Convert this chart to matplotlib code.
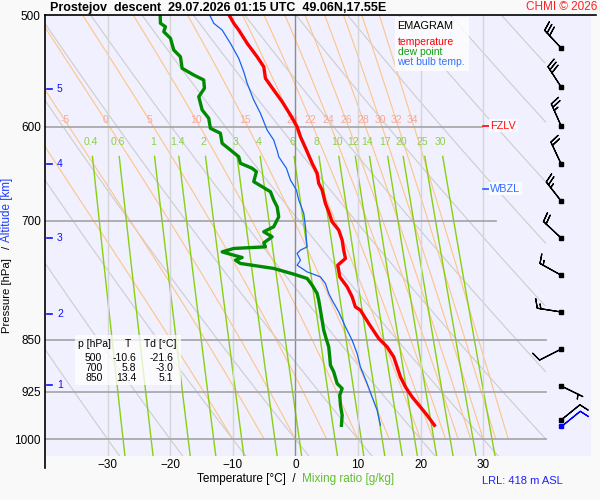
import numpy as np
import matplotlib
matplotlib.use("Agg")
import matplotlib.pyplot as plt

plt.rcParams['font.family'] = ['Liberation Sans', 'DejaVu Sans']

# ---- sounding ----
temp_p = [500, 506.8, 512.4, 523.7, 535.3, 544.1, 554.5, 565.2, 576.1, 588.7,
          600.1, 610.0, 623.4, 637.1, 647.6, 658.3, 665.5, 680.2, 689.6, 701.0,
          710.6, 722.3, 734.2, 744.3, 752.5, 767.0, 779.6, 792.5, 805.6, 809.9,
          827.7, 848.2, 860.0, 874.2, 888.6, 903.2, 918.1, 933.3, 948.7, 961.6, 977.5]
temp_t = [-10.6, -9.85, -9.06, -7.71, -6.12, -5.06, -4.79, -3.47, -2.12, -0.80,
          0.27, 0.80, 1.76, 2.67, 3.47, 3.72, 4.26, 4.79, 5.32, 5.86,
          6.92, 7.46, 7.71, 7.99, 6.76, 7.08, 8.26, 9.06, 9.58, 10.38,
          11.71, 13.30, 14.65, 15.70, 16.24, 16.77, 17.57, 18.64, 19.96, 21.04, 22.20]

dew_p = [500, 506.8, 509.7, 513.8, 519.4, 529.4, 535.3, 545.5, 551.5, 556.0,
         563.6, 571.4, 583.9, 591.9, 601.7, 606.6, 616.6, 623.4, 630.3, 637.1,
         642.3, 645.9, 656.5, 661.9, 667.4, 676.5, 684.0, 695.3, 706.7, 712.5,
         718.4, 725.5, 730.3, 732.2, 736.3, 740.3, 743.1, 746.4, 750.4, 756.5,
         763.6, 769.0, 777.5, 788.1, 796.8, 809.9, 823.3, 836.8, 848.2, 860.0,
         874.2, 886.1, 895.9, 913.0, 920.5, 930.7, 946.0, 961.6, 977.5]
dew_t = [-21.6, -21.56, -20.76, -21.03, -19.96, -19.44, -18.37, -18.10, -16.24, -14.65,
         -14.53, -15.44, -14.90, -13.85, -13.58, -11.98, -11.71, -10.38, -9.06, -8.78,
         -6.92, -6.23, -6.66, -5.32, -3.99, -3.47, -2.92, -2.67, -3.47, -5.06,
         -3.72, -5.06, -4.79, -9.85, -11.71, -9.85, -8.51, -9.58, -8.78, -3.47,
         -0.27, 1.87, 2.67, 3.47, 3.72, 3.99, 4.26, 4.52, 4.9, 5.32,
         5.48, 5.59, 6.12, 6.66, 7.46, 7.08, 7.19, 7.46, 7.35]

wb_p = [500, 506.8, 512.4, 523.7, 536.7, 548.5, 559.0, 574.5, 587.1, 603.4,
        613.3, 625.0, 630.3, 642.3, 654.7, 665.5, 676.5, 691.4, 706.7, 722.3,
        730.3, 734.2, 738.2, 746.4, 752.5, 760.8, 767.0, 775.3, 788.1, 796.8,
        812.2, 832.3, 850.6, 869.3, 888.6, 913.0, 933.3, 953.8, 977.5]
wb_t = [-13.69, -13.05, -11.71, -10.38, -9.06, -8.26, -7.71, -6.66, -5.59, -4.52,
        -3.47, -2.87, -2.67, -1.44, -0.80, 0.16, 0.53, 1.33, 1.60, 1.76,
        1.87, 0.80, 0.27, 0.80, 0.27, 1.87, 3.99, 4.79, 5.32, 5.86,
        6.92, 7.99, 9.06, 9.85, 10.38, 11.45, 12.25, 13.05, 13.58]

# winds (direction deg, speed kt)
wind_p = [527.7, 562.4, 599.4, 637.8, 677.6, 719.8, 764.9, 812.3, 863.1, 916.7, 969.1]
wind_dir = [317, 327, 336, 335, 322, 313, 299, 279, 243, 116, 51]
wind_spd = [30, 30, 25, 20, 25, 20, 15, 15, 10, 5, 10]
sfc_p, sfc_dir, sfc_spd = 978.6, 51, 10

# table
tab_p = ["500", "700", "850"]
tab_t = ["-10.6", "5.8", "13.4"]
tab_td = ["-21.6", "-3.0", "5.1"]

# altitude marks
km_levels = [1, 2, 3, 4, 5]
km_p = [915.6, 815.0, 719.6, 637.8, 564.3]

fzlv_p = 599
wbzl_p = 664

# diagram lines
p_levels = [600, 700, 850, 925, 1000]
p_line_end = [29.8, 32.0, 40, 40, 40]
isotherms = [-30, -20, -10, 10, 20, 30]
theta_c = np.arange(-30, 120, 10)
theta_w = [-10, -5, 0, 5, 10, 15, 20, 22, 24, 26, 28, 30, 32, 34]
mix_r = [0.4, 0.6, 1, 1.4, 2, 3, 4, 6, 8, 10, 12, 14, 17, 20, 25, 30]
x_ticks = [-30, -20, -10, 0, 10, 20, 30]
y_ticks = [500, 600, 700, 850, 925, 1000]

P_TOP, P_BOT = 500, 1027.8
T_LEFT, T_RIGHT = -40, 47.21

Rd, Cp, Lv, eps = 287.04, 1005.7, 2.501e6, 0.622


def es(tk):
    return 6.112 * np.exp(17.67 * (tk - 273.15) / (tk - 29.65))


def dtdp(p, tk):
    rs = eps * es(tk) / (p - es(tk))
    return (Rd * tk + Lv * rs) / (Cp + Lv * Lv * rs * eps / (Rd * tk * tk)) / p


def moist_line(t0):
    ps = np.arange(1000, 499, -2.0)
    ts = [t0 + 273.15]
    for i in range(len(ps) - 1):
        p, h, tk = ps[i], ps[i + 1] - ps[i], ts[-1]
        k1 = dtdp(p, tk)
        k2 = dtdp(p + h / 2, tk + h / 2 * k1)
        k3 = dtdp(p + h / 2, tk + h / 2 * k2)
        k4 = dtdp(p + h, tk + h * k3)
        ts.append(tk + h / 6 * (k1 + 2 * k2 + 2 * k3 + k4))
    return ps, np.array(ts) - 273.15


def mix_td(r, p):
    e = p * r / (622.0 + r)
    a = np.log(e / 6.112)
    return 243.5 * a / (17.67 - a)


fig = plt.figure(figsize=(6, 5), dpi=100, facecolor='#f9f9f9')
ax = fig.add_axes([45 / 600, 44 / 500, 546 / 600, 441 / 500])
ax.set_facecolor('#f0f0fe')
ax.set_yscale('log')
ax.set_xlim(T_LEFT, T_RIGHT)
ax.set_ylim(P_BOT, P_TOP)
for s in ax.spines.values():
    s.set_visible(False)

ax.set_yticks(y_ticks)
ax.set_yticklabels([str(v) for v in y_ticks])
ax.yaxis.set_minor_locator(matplotlib.ticker.NullLocator())
ax.set_xticks(x_ticks)
ax.tick_params(length=0, labelsize=8.5, pad=3)
ax.tick_params(axis='x', pad=2)

pp = np.linspace(P_TOP, P_BOT, 300)

# dry adiabats
for th in theta_c:
    tt = (th + 273.15) * (pp / 1000.0) ** 0.286 - 273.15
    tt = np.where((tt > 40), np.nan, tt)
    ax.plot(tt, pp, color='#cdcdcd', lw=0.8, zorder=1)

# pseudo-adiabats
for tw in theta_w:
    ps, ts = moist_line(tw)
    ax.plot(ts, ps, color='#ffc488', lw=0.8, zorder=1)
    t_lab = np.interp(594, ps[::-1], ts[::-1])
    if t_lab > -39:
        ax.text(t_lab, 594, str(tw), color='#f7a896', fontsize=7.5,
                ha='center', va='center', zorder=3)

# mixing ratio lines
pm = np.linspace(630, P_BOT, 100)
for r in mix_r:
    ax.plot(mix_td(r, pm), pm, color='#88d010', lw=1.0, zorder=1)
    lab = ('%g' % r)
    ax.text(mix_td(r, 615), 615, lab, color='#90d048', fontsize=7.5,
            ha='center', va='center', zorder=3)

# isotherms
for t in isotherms:
    ax.plot([t, t], [P_TOP, P_BOT], color='#d6d6d6', lw=1, zorder=1.5)
ax.plot([0, 0], [P_TOP, P_BOT], color='#8c8c8c', lw=1, zorder=1.5)

# isobars
for p, te in zip(p_levels, p_line_end):
    ax.plot([T_LEFT, te], [p, p], color='#a4a4a4', lw=1.2, zorder=2)

# profiles
ax.plot(wb_t, wb_p, color='#1464f0', lw=0.9, zorder=5)
ax.plot(dew_t, dew_p, color='#008a00', lw=2.4, zorder=6)
ax.plot(temp_t, temp_p, color='#ff0000', lw=2.4, zorder=7)

# freezing / wet bulb zero levels
ax.plot([29.9, 31.0], [fzlv_p, fzlv_p], color='#ff0000', lw=1.2, zorder=8)
ax.text(31.1, fzlv_p, 'FZLV', color='#ff1010', fontsize=7.8, va='center', ha='left',
        zorder=8, bbox=dict(boxstyle='square,pad=0.15', fc='#fafaff', ec='none'))
ax.plot([29.9, 31.0], [wbzl_p, wbzl_p], color='#2060ff', lw=1.2, zorder=8)
ax.text(31.1, wbzl_p, 'WBZL', color='#3070ff', fontsize=7.8, va='center', ha='left',
        zorder=8, bbox=dict(boxstyle='square,pad=0.15', fc='#fafaff', ec='none'))

# altitude marks
km_tr = matplotlib.transforms.blended_transform_factory(ax.transAxes, ax.transData)
for km, p in zip(km_levels, km_p):
    ax.plot([0.004, 0.013], [p, p], color='#1010ff', lw=1.2, transform=km_tr, zorder=8)
    ax.text(0.022, p, str(km), color='#1010ff', fontsize=7.5, va='center',
            transform=km_tr, zorder=8)

# wind barbs
wx = 42.44
d = np.radians(wind_dir)
u = -np.array(wind_spd) * np.sin(d)
v = -np.array(wind_spd) * np.cos(d)
blen = 5.9
bsizes = dict(spacing=0.15, height=0.38)
ax.barbs([wx] * len(wind_p), wind_p, u, v, length=blen, lw=0.9, color='k', zorder=8,
         sizes=bsizes)
ax.plot([wx] * len(wind_p), wind_p, 's', color='k', ms=2.6, zorder=9)
ds = np.radians(sfc_dir)
ax.barbs([wx], [sfc_p], [-sfc_spd * np.sin(ds)], [-sfc_spd * np.cos(ds)],
         length=blen, lw=0.9, color='#0000ff', zorder=8, sizes=bsizes)
ax.plot([wx], [sfc_p], 's', color='#0000ff', ms=2.6, zorder=9)

# frame lines
ax.plot([0, 0], [-0.027, 1], color='k', lw=1.2, transform=ax.transAxes, clip_on=False, zorder=10)
ax.plot([0, 1.009], [1, 1], color='k', lw=1.2, transform=ax.transAxes, clip_on=False, zorder=10)


def fx(px):
    return px / 600.0


def fy(py):
    return 1 - py / 500.0


# legend box
fig.patches.append(matplotlib.patches.Rectangle((fx(395), fy(71)), 74 / 600, 54 / 500,
                   transform=fig.transFigure, fc='white', ec='none', alpha=0.8, zorder=11))
fig.text(fx(397.5), fy(26), 'EMAGRAM', fontsize=7.8, va='center', zorder=12)
fig.text(fx(397.5), fy(42.3), 'temperature', color='#ff0000', fontsize=7.5, va='center', zorder=12)
fig.text(fx(397.5), fy(52.3), 'dew point', color='#10a010', fontsize=7.5, va='center', zorder=12)
fig.text(fx(397.5), fy(62.3), 'wet bulb temp.', color='#3070ff', fontsize=7.5, va='center', zorder=12)

# value table
fig.patches.append(matplotlib.patches.Rectangle((fx(75), fy(385)), 106 / 600, 50 / 500,
                   transform=fig.transFigure, fc='white', ec='none', alpha=0.75, zorder=11))
fig.text(fx(78), fy(344), 'p [hPa]', fontsize=7.5, va='center', zorder=12)
fig.text(fx(127.7), fy(344), 'T', fontsize=7.5, va='center', ha='center', zorder=12)
fig.text(fx(144), fy(344), 'Td [°C]', fontsize=7.5, va='center', zorder=12)
for i in range(len(tab_p)):
    yy = fy(358.3 + 10 * i)
    fig.text(fx(85), yy, tab_p[i], fontsize=7.5, va='center', zorder=12)
    fig.text(fx(136), yy, tab_t[i], fontsize=7.5, va='center', ha='right', zorder=12)
    fig.text(fx(173.3), yy, tab_td[i], fontsize=7.5, va='center', ha='right', zorder=12)

# titles and labels
fig.text(fx(50), fy(8), 'Prostejov  descent  29.07.2026 01:15 UTC  49.06N,17.55E',
         fontsize=9, fontweight='bold', va='center')
fig.text(fx(597), fy(7.5), 'CHMI © 2026', color='#ff2020', fontsize=8.5, va='center', ha='right')
fig.text(fx(197), fy(479), 'Temperature [°C]  /', fontsize=8.5, va='center')
fig.text(fx(302), fy(479), 'Mixing ratio [g/kg]', color='#60c030', fontsize=8.5, va='center')
fig.text(fx(482), fy(481), 'LRL: 418 m ASL', color='#2020ff', fontsize=8, va='center')
fig.text(fx(7.5), fy(333), 'Pressure [hPa]', fontsize=8.2, rotation=90, ha='center', va='bottom')
fig.text(fx(7.5), fy(249), '/', fontsize=8.2, rotation=90, ha='center', va='bottom')
fig.text(fx(7.5), fy(242), 'Altitude [km]', color='#1a3cff', fontsize=8.4, rotation=90,
         ha='center', va='bottom')

fig.savefig('out.png', dpi=100, facecolor=fig.get_facecolor())
